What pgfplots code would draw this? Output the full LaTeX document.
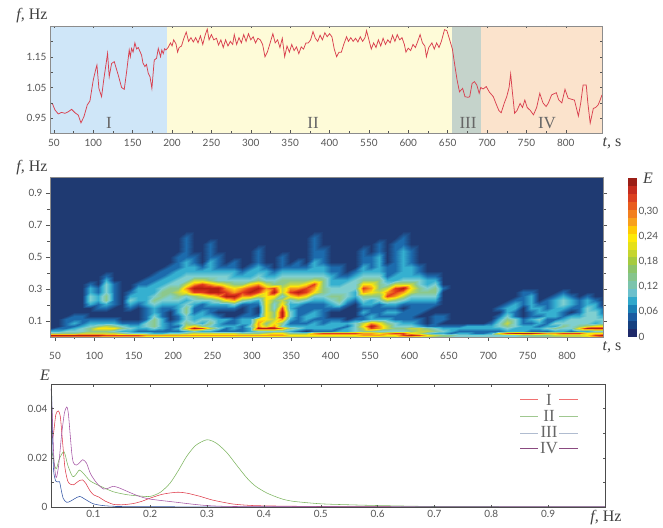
\documentclass[border=0pt]{standalone}
\usepackage{fontspec}
\setmainfont{Liberation Serif}
\newfontfamily\tickf{Lato}
\usepackage{pgfplots}
\usepackage{pgfplotstable}
\pgfplotsset{compat=1.18}
\definecolor{tk}{HTML}{555555}
\definecolor{rl}{HTML}{D9404F}
\definecolor{lgI}{RGB}{240,112,112}
\definecolor{lgII}{RGB}{160,200,144}
\definecolor{lgIII}{RGB}{176,188,208}
\definecolor{lgIV}{RGB}{138,74,128}
\pgfplotstableread{
t f
45 1.001
48.3 .996
51.3 .977
55.5 .964
59.7 .969
64 .966
68.2 .971
72.4 .979
76.7 .968
80.9 .960
84.3 .935
88.1 .955
92.3 .993
95.7 1.006
99.9 1.074
102.9 1.107
104.6 1.123
107.1 1.047
110.5 1.020
113.5 1.080
116 1.123
118.1 1.161
120.2 1.085
123.2 1.128
126.6 1.134
131.7 1.090
135.9 1.050
139.3 1.044
142.3 1.101
145.6 1.172
147 1.150
148.6 1.177
150.5 1.165
152.8 1.195
155 1.175
157.1 1.180
161.3 1.155
163 1.130
165.5 1.118
167.5 1.125
169.8 1.096
172 1.085
174.4 1.047
177.4 1.139
180.3 1.145
182.5 1.177
185.4 1.150
187 1.172
188.8 1.160
190.5 1.176
192.2 1.172
195 1.180
198 1.195
200 1.185
202 1.205
205 1.192
207 1.165
209 1.180
212 1.185
215 1.210
218 1.230
221 1.200
224 1.212
227 1.198
230 1.212
233 1.195
236 1.218
239 1.190
242 1.220
244.7 1.240
247 1.205
250 1.222
253 1.205
256.5 1.210
259 1.188
262 1.205
265 1.180
268 1.205
271 1.185
274 1.200
277 1.190
279 1.222
282 1.190
285 1.212
288 1.195
291 1.222
294 1.200
297 1.225
300 1.205
303 1.215
306 1.195
309 1.210
312 1.205
315 1.190
318 1.150
321 1.165
324 1.190
328 1.225
331 1.195
334 1.205
337 1.180
340 1.210
343 1.150
346 1.185
349 1.165
352 1.190
355 1.170
358 1.182
361 1.160
364 1.182
367 1.175
370 1.195
373 1.195
376 1.205
379 1.232
382 1.210
385 1.200
388 1.220
391 1.205
394 1.228
397 1.215
400 1.225
403 1.215
406 1.175
409 1.150
412 1.165
415 1.165
418 1.190
421.6 1.215
424 1.200
427 1.212
430 1.200
433 1.210
436 1.198
439 1.215
442 1.200
445 1.212
447 1.235
450 1.205
453 1.175
456 1.195
459 1.180
462 1.205
465 1.185
468 1.210
471 1.190
474 1.205
477 1.195
480 1.220
483 1.200
486 1.222
489 1.205
492 1.212
495 1.190
497 1.165
500 1.178
503 1.170
506 1.190
509 1.180
512 1.200
515 1.222
518 1.195
521 1.185
523 1.150
526 1.180
530 1.195
533 1.175
536 1.195
539 1.180
542 1.200
546 1.238
549 1.235
552 1.210
556 1.175
559 1.123
562 1.074
565 1.036
569 1.047
572 1.020
576 1.018
578 1.020
581 1.063
584 1.069
587 1.058
590 1.031
592 1.050
595 1.045
599 1.053
603 1.035
608 1.020
611 1.000
615 .975
618 .968
622 1.000
625 1.020
628 1.050
630 1.094
632 1.040
635 .966
638 .975
642 .998
645 .985
648 1.009
651 .985
655 .975
659 .961
663 .985
667 1.031
671 1.000
675 .988
678 1.000
682 1.026
688 1.033
691 1.010
695 1.000
699 1.044
703 1.015
707 1.012
711 1.009
716 .957
719 1.000
722 1.058
726 1.058
728 1.000
731 .934
735 .982
738 .985
741 .993
743 1.005
746 1.026
}\freqdata
\pgfplotstableread{
f E
.0258 .0307
.0275 .0280
.030 .0300
.034 .0375
.0384 .0390
.042 .0365
.046 .0260
.050 .0160
.055 .0105
.060 .0092
.065 .0090
.070 .0098
.076 .0108
.081 .0110
.087 .0095
.093 .0070
.100 .0050
.110 .0040
.120 .0025
.135 .0011
.150 .0009
.170 .0014
.185 .0023
.200 .0036
.220 .0051
.235 .0057
.250 .0060
.265 .0056
.288 .0043
.310 .0028
.346 .0012
.38 .0006
.42 .0004
.5 .0002
.6 .0001
1 0
}\specI
\pgfplotstableread{
f E
.0258 .0230
.028 .0215
.031 .0175
.035 .0155
.040 .0195
.0484 .0224
.055 .0170
.063 .0125
.068 .0128
.0755 .0150
.083 .0135
.095 .0105
.112 .0085
.135 .0062
.159 .0050
.180 .0045
.200 .0043
.218 .0060
.235 .0097
.25 .0150
.264 .0205
.28 .0250
.3 .0273
.317 .0258
.335 .0220
.352 .0170
.37 .0118
.385 .0085
.405 .0057
.43 .0034
.452 .0023
.5 .0013
.55 .0009
.6 .0006
.7 .0002
.8 .0001
1 0
}\specII
\pgfplotstableread{
f E
.0258 .0480
.0268 .0450
.028 .0320
.030 .0150
.0345 .0103
.0403 .0103
.043 .0075
.047 .0035
.0532 .0019
.060 .0024
.068 .0035
.0763 .0043
.085 .0032
.1 .0013
.12 .0005
.15 .0002
.2 .0001
1 0
}\specIII
\pgfplotstableread{
f E
.0258 .0480
.028 .0360
.0305 .0200
.0345 .0119
.039 .0170
.044 .0290
.049 .0380
.0532 .0406
.056 .0380
.059 .0300
.062 .0220
.0648 .0180
.070 .0170
.076 .0180
.0813 .0192
.088 .0178
.095 .0135
.106 .0097
.118 .0073
.128 .0078
.135 .0084
.145 .0078
.159 .0064
.18 .0044
.2 .0032
.247 .0019
.28 .0010
.306 .0005
.35 .0002
.5 .0001
1 0
}\specIV
% wavelet energy, coded 0..9 (colour levels); first column: f; then 70 columns of t
\pgfplotstableread[header=false]{
1.00 0 0 0 0 0 0 0 0 0 0 0 0 0 0 0 0 0 0 0 0 0 0 0 0 0 0 0 0 0 0 0 0 0 0 0 0 0 0 0 0 0 0 0 0 0 0 0 0 0 0 0 0 0 0 0 0 0 0 0 0 0 0 0 0 0 0 0 0 0 0
.66 0 0 0 0 0 0 0 0 0 0 0 0 0 0 0 0 0 0 0 0 0 0 0 0 0 0 0 0 0 0 0 0 0 0 0 0 0 0 0 0 0 0 0 0 0 0 0 0 0 0 0 0 0 0 0 0 0 0 0 0 0 0 0 0 0 0 0 0 0 0
.62 0 0 0 0 0 0 0 0 0 0 0 0 0 0 0 0 0 1 0 0 0 0 0 0 0 0 0 0 0 0 0 0 0 1 0 0 0 0 0 0 0 0 0 0 1 0 0 0 0 0 0 0 0 0 0 0 0 0 0 0 0 0 0 0 0 0 0 0 0 0
.58 0 0 0 0 0 0 0 0 0 0 0 0 0 0 0 0 0 1 0 0 1 0 0 0 0 0 0 0 0 0 0 0 0 1 0 0 0 0 0 0 0 1 0 1 1 0 0 0 0 0 0 0 0 0 0 0 0 0 0 0 0 0 0 0 0 0 0 0 0 0
.54 0 0 0 0 0 0 0 0 0 0 0 0 0 0 0 0 0 1 0 0 1 0 0 0 0 0 1 0 0 0 0 0 0 1 1 0 0 0 0 1 0 1 0 1 2 1 0 0 0 0 0 0 0 0 0 0 0 0 0 0 0 0 0 0 0 0 0 0 0 0
.50 0 0 0 0 0 0 0 0 0 0 0 0 0 0 0 0 1 1 1 0 1 1 0 0 0 0 1 0 0 1 0 0 0 1 1 0 0 0 0 1 1 2 0 1 2 1 0 0 0 0 0 0 0 0 0 0 0 0 0 0 0 0 0 0 0 0 0 0 0 0
.47 0 0 0 0 0 0 0 0 0 0 0 0 0 0 0 0 1 2 1 0 2 1 0 1 0 0 1 0 0 1 0 1 0 2 1 0 0 0 0 1 1 2 0 1 2 1 0 0 0 0 0 0 0 0 0 0 0 0 0 0 0 0 0 0 0 0 0 0 0 0
.44 0 0 0 0 0 0 0 0 0 0 0 0 0 0 0 1 1 2 2 1 2 1 1 1 0 1 2 1 0 1 1 1 1 2 2 1 1 0 0 2 1 2 1 1 2 2 1 0 0 0 0 0 0 0 0 0 0 0 0 0 0 0 0 0 0 0 0 0 0 0
.41 0 0 0 0 0 0 0 0 0 0 0 0 0 0 1 1 2 2 2 2 2 2 2 2 1 2 2 2 1 2 2 2 2 2 2 1 1 0 1 2 2 2 1 1 2 2 1 0 0 0 0 0 0 0 0 0 0 0 0 0 0 0 0 0 0 0 0 0 0 0
.38 0 0 0 0 0 0 0 1 0 0 0 0 0 1 1 2 2 3 3 3 3 3 3 2 2 2 3 2 2 3 3 3 3 3 3 2 1 1 2 3 3 3 1 2 2 2 2 1 1 0 0 0 0 0 0 0 0 0 0 0 0 0 0 0 0 0 0 0 0 0
.355 0 0 0 0 0 0 0 2 0 0 0 0 1 1 2 2 3 3 5 5 4 3 3 3 3 3 4 3 3 4 4 4 4 5 4 2 2 2 3 4 4 4 2 2 3 3 3 2 2 0 0 0 0 0 0 0 0 0 0 0 0 0 0 0 0 0 0 0 0 0
.33 0 0 0 0 0 1 0 3 1 0 0 1 1 2 2 3 3 5 7 8 7 6 5 4 4 6 7 5 4 4 5 5 6 8 4 2 2 3 3 6 6 4 3 5 5 5 3 2 3 0 0 0 0 0 0 0 0 0 0 0 0 0 0 0 0 0 0 0 0 0
.305 0 0 0 0 0 2 1 3 1 0 0 2 2 2 3 4 4 7 9 9 9 9 7 6 7 8 9 7 8 5 7 7 8 7 4 3 3 3 3 8 7 4 5 8 9 6 4 3 4 1 0 0 0 0 0 0 0 0 0 0 0 0 0 0 0 0 0 0 0 0
.28 0 0 0 0 0 2 1 3 1 0 1 2 2 2 4 4 5 6 8 8 9 9 8 7 8 9 8 6 9 5 8 9 8 6 4 3 3 3 2 7 6 5 7 8 7 5 4 4 4 0 0 0 0 0 0 0 0 0 0 1 1 0 0 0 1 0 0 0 0 0
.255 0 0 0 0 0 3 2 4 1 0 2 2 2 3 4 3 4 3 4 5 6 7 9 9 7 7 5 6 6 3 6 7 6 3 3 4 4 3 2 4 4 4 8 7 5 3 3 3 3 0 0 0 0 0 0 0 0 0 0 1 2 0 0 1 2 1 0 1 0 0
.23 0 0 0 0 0 3 2 4 1 0 3 2 2 4 3 3 3 2 3 3 3 4 6 7 4 3 2 6 4 5 3 4 3 2 2 3 4 2 1 3 2 3 5 4 3 2 2 2 2 0 0 0 0 0 0 0 0 0 1 1 2 0 1 2 3 2 1 2 1 0
.205 0 0 0 0 0 2 1 2 1 0 2 1 2 3 2 2 2 3 2 1 2 2 2 3 1 1 1 6 3 6 2 2 1 1 1 2 3 1 0 2 2 1 2 2 1 1 1 1 1 0 0 0 0 0 0 0 0 1 2 1 2 1 1 2 3 2 1 2 2 0
.18 0 0 0 0 0 0 1 1 0 0 1 0 1 2 1 1 2 4 1 1 1 1 1 1 0 1 0 6 3 8 2 1 1 1 1 1 1 0 0 1 1 1 1 1 0 1 1 1 0 0 0 0 0 0 0 0 1 2 2 0 2 2 1 2 2 1 1 3 2 1
.155 0 0 0 0 0 0 0 0 0 0 0 0 1 2 1 0 2 4 1 2 1 0 0 0 0 1 0 6 4 9 3 1 1 2 1 0 0 0 0 2 1 1 2 2 1 1 1 0 0 0 0 0 0 0 0 0 0 2 1 0 1 2 2 2 1 0 1 3 3 1
.13 0 0 0 1 1 0 0 0 0 0 0 0 1 3 1 0 1 3 2 2 2 1 0 0 1 1 1 6 4 9 3 1 2 2 1 0 0 0 0 1 2 1 1 1 1 1 0 0 1 1 0 0 0 0 0 0 1 3 1 0 1 1 2 2 1 2 2 3 3 2
.11 0 0 1 1 1 1 1 1 1 0 0 0 1 4 2 0 1 3 2 3 3 2 2 1 2 2 6 6 5 7 2 1 2 1 1 1 1 0 1 1 2 2 2 1 1 1 1 0 1 1 0 0 0 0 0 0 2 4 3 1 2 3 1 1 2 3 3 3 3 3
.09 0 0 1 2 1 2 2 2 2 1 1 1 3 4 2 1 2 4 3 2 4 2 1 1 2 2 7 4 6 4 1 1 1 2 1 2 2 2 3 5 7 6 4 3 2 2 1 0 1 0 0 0 0 0 0 1 3 5 3 1 1 2 1 3 3 3 3 3 2 3
.07 0 0 1 1 2 3 4 5 4 3 2 2 3 4 2 1 1 5 6 4 3 2 2 2 1 3 7 5 7 3 2 2 2 2 2 2 2 1 3 6 9 7 5 3 3 3 2 1 1 1 1 1 2 2 2 2 3 4 3 2 2 1 2 2 4 3 4 5 6 6
.055 0 1 1 2 3 4 6 6 6 4 3 2 2 3 2 1 2 6 9 8 5 3 1 2 1 2 9 9 9 7 4 3 2 2 2 2 1 2 3 5 8 7 5 4 4 5 5 4 3 2 2 2 2 2 2 2 2 3 2 2 2 2 3 4 3 3 6 9 9 9
.04 2 2 3 3 3 4 4 4 3 2 2 1 1 1 1 1 1 2 3 2 2 1 1 1 1 2 3 3 3 3 2 1 0 1 1 1 2 2 3 4 4 3 3 3 3 4 5 5 4 3 2 1 1 1 1 1 1 2 2 2 1 1 1 2 2 1 2 2 3 3
.025 4 4 4 4 5 5 5 5 5 4 3 3 3 2 2 3 3 4 5 5 5 5 5 5 4 4 4 5 6 6 4 4 4 7 8 8 8 8 8 7 7 6 7 8 8 6 5 3 2 2 1 2 2 1 1 2 6 8 9 9 9 8 7 7 8 8 8 6 6 6
.012 9 9 9 9 9 9 9 8 8 8 8 8 7 7 7 7 7 7 7 7 7 7 7 7 7 7 7 7 7 7 6 6 6 6 6 6 6 6 6 7 7 7 6 6 8 9 8 6 5 4 4 3 3 3 3 3 3 3 3 4 4 4 4 5 5 5 5 6 8 9
0 6 6 6 6 6 6 6 6 6 6 6 6 5 5 5 5 5 5 5 5 5 5 5 5 5 5 5 5 5 5 5 5 5 5 5 5 5 5 5 5 5 5 5 5 5 5 5 5 4 4 3 3 3 3 3 3 3 3 3 3 4 4 4 4 5 5 5 5 6 6
}\heatdata
\pgfplotstablegetrowsof{\heatdata}
\pgfmathtruncatemacro\heatlast{\pgfplotsretval-1}
\gdef\heatcoords{}
\foreach \j in {0,...,\heatlast}{%
  \pgfplotstablegetelem{\j}{[index]0}\of\heatdata
  \let\ff\pgfplotsretval
  \foreach \i in {0,...,69}{%
    \pgfmathtruncatemacro\cc{\i+1}%
    \pgfmathsetmacro\xx{43.65+\i*10.175}%
    \pgfplotstablegetelem{\j}{[index]\cc}\of\heatdata
    \xdef\heatcoords{\heatcoords (\xx,\ff) [\pgfplotsretval]}%
  }%
}
\pgfplotsset{
  panel/.style={
    scale only axis, anchor=south west,
    scaled ticks=false,
    tick label style={font=\tickf\fontsize{10}{12}\selectfont, text=tk},
    /pgf/number format/assume math mode=true,
    tick style={color=tk, line width=.4pt},
    major tick length=2.5pt, minor tick length=1.5pt,
  },
  tticks/.style={
    xtick={50,100,...,700},
    xticklabels={50,100,150,200,250,300,350,400,550,600,650,700,750,800},
    minor x tick num=1,
  },
}
\def\HeatPlot{\addplot[surf, shader=interp, mesh/cols=70, mesh/ordering=x varies, point meta=explicit] coordinates}
\begin{document}
\begin{tikzpicture}[x=1pt,y=1pt]
\path[use as bounding box] (0,0) rectangle (663,527);
% ---------- top panel
\begin{axis}[panel, tticks, at={(50pt,394pt)}, width=552pt, height=107pt,
  xmin=45, xmax=746, ymin=.902, ymax=1.25,
  ytick={.95,1,1.05,1.1,1.15,1.2},
  yticklabels={0.95,,1.05,,1.15,},
  axis line style={color=gray!90, line width=.6pt},
  axis on top, x tick label style={yshift=-3pt},
  tick align=inside, clip=true]
\addplot[fill={rgb,255:red,207;green,230;blue,248}, draw=none] coordinates {(45,.902)(193,.902)(193,1.25)(45,1.25)} -- cycle;
\addplot[fill={rgb,255:red,254;green,251;blue,216}, draw=none] coordinates {(193,.902)(556,.902)(556,1.25)(193,1.25)} -- cycle;
\addplot[fill={rgb,255:red,197;green,211;blue,203}, draw=none] coordinates {(556,.902)(592,.902)(592,1.25)(556,1.25)} -- cycle;
\addplot[fill={rgb,255:red,251;green,227;blue,204}, draw=none] coordinates {(592,.902)(746,.902)(746,1.25)(592,1.25)} -- cycle;
\addplot[rl, line width=.75pt] table[x=t,y=f] {\freqdata};
\end{axis}
% ---------- wavelet panel
\begin{axis}[panel, tticks, at={(50pt,190pt)}, width=553pt, height=160pt,
  xmin=43.65, xmax=745.7, ymin=0, ymax=1,
  ytick={.1,.3,.5,.7,.9}, yticklabels={0.1,0.3,0.5,0.7,0.9},
  minor y tick num=1,
  axis background/.style={fill={rgb,255:red,31;green,58;blue,114}},
  colormap={heat}{rgb255=(31,58,114) rgb255=(28,107,173) rgb255=(53,176,208) rgb255=(127,207,208) rgb255=(140,200,140) rgb255=(197,214,64) rgb255=(253,230,10) rgb255=(248,154,28) rgb255=(226,58,30) rgb255=(184,30,18)},
  point meta min=0, point meta max=9,
  axis line style={color=black!45, line width=.5pt},
  axis on top,
  xtick pos=bottom, ytick pos=both,
  xticklabel style={yshift=-8pt},
  major tick length=4pt, minor tick length=2.5pt,
  tick align=outside]
\expandafter\HeatPlot\expandafter{\heatcoords};
\end{axis}
% ---------- colour bar
\begin{axis}[panel, at={(628pt,190pt)}, width=9pt, height=159pt,
  xmin=0, xmax=1, ymin=0, ymax=.38, xtick=\empty,
  ytick={0,.06,.12,.18,.24,.30}, yticklabels={0,{0,06},{0,12},{0,18},{0,24},{0,30}},
  yticklabel pos=right, ytick style={draw=none},
  axis line style={draw=none}, y tick label style={xshift=-2pt}]
\addplot[fill={rgb,255:red,31;green,42;blue,106}, draw=none] coordinates {(0,0)(1,0)(1,.019)(0,.019)} -- cycle;
\addplot[fill={rgb,255:red,21;green,64;blue,127}, draw=none] coordinates {(0,.019)(1,.019)(1,.038)(0,.038)} -- cycle;
\addplot[fill={rgb,255:red,26;green,90;blue,160}, draw=none] coordinates {(0,.038)(1,.038)(1,.057)(0,.057)} -- cycle;
\addplot[fill={rgb,255:red,26;green,128;blue,181}, draw=none] coordinates {(0,.057)(1,.057)(1,.076)(0,.076)} -- cycle;
\addplot[fill={rgb,255:red,48;green,168;blue,203}, draw=none] coordinates {(0,.076)(1,.076)(1,.095)(0,.095)} -- cycle;
\addplot[fill={rgb,255:red,108;green,192;blue,204}, draw=none] coordinates {(0,.095)(1,.095)(1,.114)(0,.114)} -- cycle;
\addplot[fill={rgb,255:red,124;green,196;blue,172}, draw=none] coordinates {(0,.114)(1,.114)(1,.133)(0,.133)} -- cycle;
\addplot[fill={rgb,255:red,133;green,196;blue,140}, draw=none] coordinates {(0,.133)(1,.133)(1,.152)(0,.152)} -- cycle;
\addplot[fill={rgb,255:red,140;green,196;blue,106}, draw=none] coordinates {(0,.152)(1,.152)(1,.171)(0,.171)} -- cycle;
\addplot[fill={rgb,255:red,165;green,203;blue,63}, draw=none] coordinates {(0,.171)(1,.171)(1,.19)(0,.19)} -- cycle;
\addplot[fill={rgb,255:red,197;green,213;blue,48}, draw=none] coordinates {(0,.19)(1,.19)(1,.209)(0,.209)} -- cycle;
\addplot[fill={rgb,255:red,229;green,224;blue,24}, draw=none] coordinates {(0,.209)(1,.209)(1,.228)(0,.228)} -- cycle;
\addplot[fill={rgb,255:red,253;green,233;blue,8}, draw=none] coordinates {(0,.228)(1,.228)(1,.247)(0,.247)} -- cycle;
\addplot[fill={rgb,255:red,255;green,202;blue,5}, draw=none] coordinates {(0,.247)(1,.247)(1,.266)(0,.266)} -- cycle;
\addplot[fill={rgb,255:red,248;green,160;blue,28}, draw=none] coordinates {(0,.266)(1,.266)(1,.285)(0,.285)} -- cycle;
\addplot[fill={rgb,255:red,242;green,127;blue,31}, draw=none] coordinates {(0,.285)(1,.285)(1,.304)(0,.304)} -- cycle;
\addplot[fill={rgb,255:red,233;green,92;blue,30}, draw=none] coordinates {(0,.304)(1,.304)(1,.323)(0,.323)} -- cycle;
\addplot[fill={rgb,255:red,220;green,64;blue,32}, draw=none] coordinates {(0,.323)(1,.323)(1,.342)(0,.342)} -- cycle;
\addplot[fill={rgb,255:red,197;green,44;blue,30}, draw=none] coordinates {(0,.342)(1,.342)(1,.361)(0,.361)} -- cycle;
\addplot[fill={rgb,255:red,155;green,30;blue,22}, draw=none] coordinates {(0,.361)(1,.361)(1,.38)(0,.38)} -- cycle;
\end{axis}
% ---------- spectra panel
\begin{axis}[panel, at={(51pt,20pt)}, width=554pt, height=122.7pt,
  xmin=.0255, xmax=1, ymin=0, ymax=.0498,
  xtick={.1,.2,.3,.4,.5,.6,.7,.8,.9},
  xticklabels={0.1,0.2,0.3,0.4,0.5,0.6,0.7,0.8,0.9},
  ytick={0,.01,.02,.03,.04}, yticklabels={0,,0.02,,0.04},
  axis line style={color=black!70, line width=.8pt},
  tick align=inside, axis on top]
\addplot[smooth, tension=.45, color={rgb,255:red,222;green,60;blue,75}, line width=.55pt] table[x=f,y=E] {\specI};
\addplot[smooth, tension=.45, color={rgb,255:red,125;green,180;blue,95}, line width=.55pt] table[x=f,y=E] {\specII};
\addplot[smooth, tension=.45, color={rgb,255:red,50;green,85;blue,165}, line width=.55pt] table[x=f,y=E] {\specIII};
\addplot[smooth, tension=.45, color={rgb,255:red,165;green,85;blue,165}, line width=.55pt] table[x=f,y=E] {\specIV};
\end{axis}
% ---------- text
\def\lab#1#2#3{\node[inner sep=0,font=\fontsize{16}{18}\selectfont,text=black!75] at (#1,527-#2) {#3};}
\lab{32}{16}{\textit{f,} Hz}
\lab{32}{168}{\textit{f,} Hz}
\lab{45}{375}{\textit{E}}
\lab{612}{143}{\textit{t,} s}
\lab{612}{347}{\textit{t,} s}
\lab{606}{518}{\textit{f,} Hz}
\lab{648}{178}{\textit{E}}
\def\rom#1#2#3{\node[inner sep=0,font=\fontsize{17}{18}\selectfont,text=black!60] at (#1,527-#2) {#3};}
\rom{109}{123}{I}
\rom{313}{123}{II}
\rom{468}{123}{III}
\rom{547}{123}{IV}
\rom{549}{400}{I}
\rom{549}{416}{II}
\rom{549}{432}{III}
\rom{549}{448}{IV}
\draw[lgI,line width=1pt] (520,127) -- (538,127);
\draw[lgI,line width=1pt] (559,127) -- (578,127);
\draw[lgII,line width=.6pt] (520,111) -- (538,111);
\draw[lgII,line width=.6pt] (559,111) -- (578,111);
\draw[lgIII,line width=.7pt] (520,94) -- (538,94);
\draw[lgIII,line width=.7pt] (559,94) -- (578,94);
\draw[lgIV,line width=.6pt] (520,79) -- (538,79);
\draw[lgIV,line width=.6pt] (559,79) -- (578,79);
\end{tikzpicture}
\end{document}
